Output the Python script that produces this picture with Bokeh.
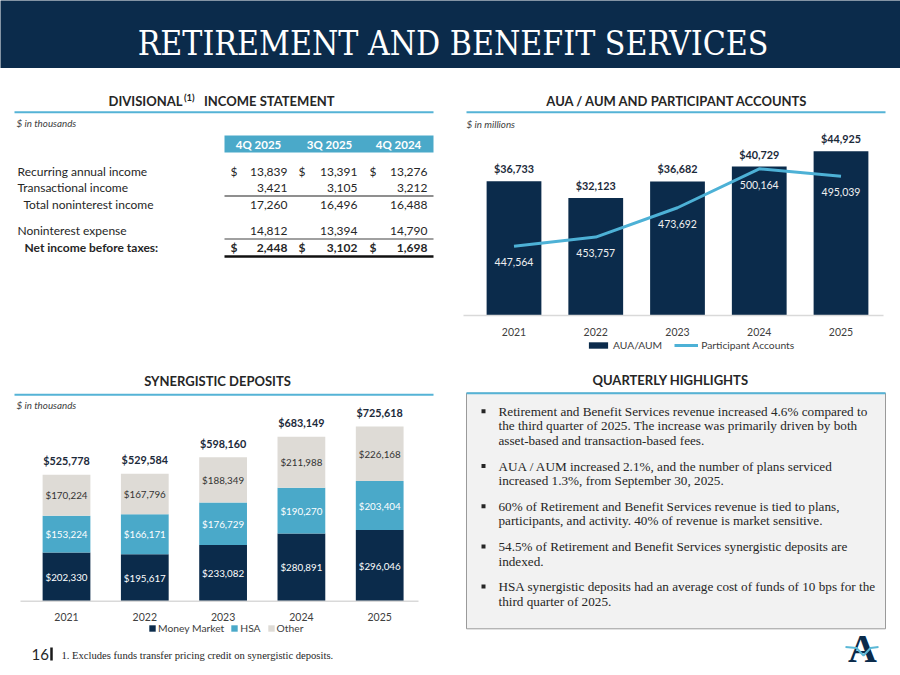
from bokeh.plotting import figure
from bokeh.layouts import column, row
from bokeh.models import Range1d, Legend, LegendItem, ColumnDataSource
from bokeh.core.properties import value
from bokeh.embed import file_html
from bokeh.resources import INLINE

# ---------------- data ----------------
slide_title = "RETIREMENT AND BENEFIT SERVICES"
years = ["2021", "2022", "2023", "2024", "2025"]

aua_aum = [36733, 32123, 36682, 40729, 44925]                 # $ millions
participant_accounts = [447564, 453757, 473692, 500164, 495039]

money_market = [202330, 195617, 233082, 280891, 296046]        # $ thousands
hsa = [153224, 166171, 176729, 190270, 203404]
other = [170224, 167796, 188349, 211988, 226168]

quarters = ["4Q 2025", "3Q 2025", "4Q 2024"]
income_rows = ["Recurring annual income", "Transactional income", "Total noninterest income",
               "Noninterest expense", "Net income before taxes:"]
recurring_income = [13839, 13391, 13276]
transactional_income = [3421, 3105, 3212]
total_noninterest_income = [17260, 16496, 16488]
noninterest_expense = [14812, 13394, 14790]
net_income_before_taxes = [2448, 3102, 1698]

highlights = [
    ["Retirement and Benefit Services revenue increased 4.6% compared to",
     "the third quarter of 2025. The increase was primarily driven by both",
     "asset-based and transaction-based fees."],
    ["AUA / AUM increased 2.1%, and the number of plans serviced",
     "increased 1.3%, from September 30, 2025."],
    ["60% of Retirement and Benefit Services revenue is tied to plans,",
     "participants, and activity. 40% of revenue is market sensitive."],
    ["54.5% of Retirement and Benefit Services synergistic deposits are",
     "indexed."],
    ["HSA synergistic deposits had an average cost of funds of 10 bps for the",
     "third quarter of 2025."],
]
footnote = "1. Excludes funds transfer pricing credit on synergistic deposits."
page_number = "16"

# ---------------- style ----------------
NAVY = "#0b2b4b"
TEAL = "#4aa9c9"
LINE_TEAL = "#4db1d6"
RULE = "#55b3d6"
LIGHT = "#dedbd6"
TXT = "#262626"
SANS = "Lato"
SERIF = "Liberation Serif"


def base_fig(w, h, xr, yr, bg="white"):
    return figure(width=int(w), height=int(h), x_range=xr, y_range=yr,
                  output_backend="svg", toolbar_location=None,
                  x_axis_type=None, y_axis_type=None, min_border=0,
                  outline_line_color=None, background_fill_color=bg, border_fill_color=bg)


def pix_fig(x0, x1, y0, y1, bg="white"):
    return base_fig(x1 - x0, y1 - y0, Range1d(x0, x1), Range1d(y1, y0), bg)


def txt(p, x, y, s, size, color=TXT, font=SANS, style="normal", align="left", **kw):
    p.text(x=[x], y=[y], text=[s], text_font=value(font), text_font_size=f"{size}px",
           text_color=color, text_font_style=style, text_align=align,
           text_baseline="middle", **kw)


def make_chart(px0, px1, py0, py1, base, x0c, step, scale):
    p = base_fig(px1 - px0, py1 - py0,
                 Range1d((px0 - x0c) / step, (px1 - x0c) / step),
                 Range1d((base - py1) / scale, (base - py0) / scale))
    fx = lambda px: (px - x0c) / step
    fy = lambda py: (base - py) / scale
    return p, fx, fy


def year_labels(p, fx, lpx, rpx, offset):
    p.segment(x0=[fx(lpx)], y0=[0], x1=[fx(rpx)], y1=[0], line_color="#d9d9d9", line_width=1.5)
    ys = ColumnDataSource(dict(x=list(range(len(years))), y=[0] * len(years), t=years))
    p.text(x="x", y="y", text="t", source=ys, y_offset=offset, text_align="center",
           text_baseline="middle", text_font=value(SANS), text_font_size="10.5px",
           text_color="#404040")


def fmt(v):
    return f"{v:,}"


# ---------------- banner ----------------
banner = pix_fig(0, 900, 0, 68, bg=NAVY)
txt(banner, 452.5, 43, slide_title, 33.5, color="white", font="DejaVu Serif Condensed",
    align="center")

# ---------------- income statement table ----------------
tab = pix_fig(0, 450, 68, 365)
txt(tab, 182, 100.5, "DIVISIONAL", 13, style="bold", align="right")
txt(tab, 183.5, 97, "(1)", 9.5, style="bold")
txt(tab, 203.5, 100.5, "INCOME STATEMENT", 13, style="bold")
tab.segment(x0=[14], y0=[111.7], x1=[433], y1=[111.7], line_color=RULE, line_width=2)
txt(tab, 16, 122, "$ in thousands", 9.8, color="#404040", style="italic")
tab.quad(left=[224], right=[433], top=[135], bottom=[152], fill_color=TEAL, line_color=None)
col_center = [258, 329, 398]
col_right = [287, 357, 427]
dollar_x = [230, 298, 369]
for q, cx in zip(quarters, col_center):
    txt(tab, cx, 143.5, q, 11.5, color="white", style="bold", align="center")

table_values = [recurring_income, transactional_income, total_noninterest_income,
                noninterest_expense, net_income_before_taxes]
row_y = [171, 187, 204, 230, 247]
row_x = [17, 17, 23, 17, 24]
for i, (lab, vals) in enumerate(zip(income_rows, table_values)):
    st = "bold" if i == 4 else "normal"
    txt(tab, row_x[i], row_y[i], lab, 12, style=st)
    for j, v in enumerate(vals):
        txt(tab, col_right[j], row_y[i], fmt(v), 12, style=st, align="right")
        if i in (0, 4):
            txt(tab, dollar_x[j], row_y[i], "$", 12, style=st)
tab.segment(x0=[224], y0=[195.5], x1=[433], y1=[195.5], line_color="#202020", line_width=1.2)
tab.segment(x0=[224], y0=[238.5], x1=[433], y1=[238.5], line_color="#808080", line_width=1.5)
tab.segment(x0=[224], y0=[256], x1=[433], y1=[256], line_color="#101010", line_width=2.5)

# ---------------- AUA / AUM chart ----------------
aua, ax_, ay_ = make_chart(450, 900, 68, 365, 315, 513.5, 81.75, 0.003656)
ACCT_BASE = 400453.0
ACCT_PER_PX = 1 / 0.001471
aua.extra_y_ranges = {"acct": Range1d(ACCT_BASE - 50 * ACCT_PER_PX, ACCT_BASE + 247 * ACCT_PER_PX)}
idx = list(range(len(years)))
src = ColumnDataSource(dict(x=idx, aua=aua_aum, acct=participant_accounts,
                            aua_lab=["$" + fmt(v) for v in aua_aum],
                            acct_lab=[fmt(v) for v in participant_accounts]))
bars = aua.vbar(x="x", top="aua", width=0.67, source=src, fill_color=NAVY, line_color=None)
aua.text(x="x", y="aua", text="aua_lab", source=src, text_align="center", text_baseline="middle",
         y_offset=-12.5, text_font=value(SANS), text_font_style="bold", text_font_size="10.8px",
         text_color="#1c2a3a")
line = aua.line(x="x", y="acct", source=src, y_range_name="acct", line_color=LINE_TEAL,
                line_width=3)
aua.text(x="x", y="acct", text="acct_lab", source=src, y_range_name="acct", text_align="center",
         text_baseline="middle", y_offset=16, text_font=value(SANS), text_font_size="10.5px",
         text_color="#f0f0f0")
txt(aua, ax_(677), ay_(100.5), "AUA / AUM AND PARTICIPANT ACCOUNTS", 13, style="bold", align="center")
aua.segment(x0=[ax_(466)], y0=[ay_(111.7)], x1=[ax_(885)], y1=[ay_(111.7)], line_color=RULE, line_width=2)
txt(aua, ax_(466), ay_(123), "$ in millions", 9.8, color="#404040", style="italic")
year_labels(aua, ax_, 463, 883, 16.7)
leg1 = Legend(items=[LegendItem(label="AUA/AUM", renderers=[bars]),
                     LegendItem(label="Participant Accounts", renderers=[line])],
              orientation="horizontal", location=(136, 14), border_line_color=None,
              background_fill_alpha=0, padding=0, margin=0, spacing=12, glyph_width=24,
              glyph_height=8, label_height=10, label_standoff=3, label_text_font=SANS,
              label_text_font_size="10.3px", label_text_color="#404040")
aua.add_layout(leg1)

# ---------------- synergistic deposits chart ----------------
dep, dx_, dy_ = make_chart(0, 450, 365, 640, 600.7, 66, 78.3, 0.0002406)
totals = [a + b + c for a, b, c in zip(money_market, hsa, other)]
dsrc = ColumnDataSource(dict(
    x=idx, mm=money_market, hsa=hsa, other=other, total=totals,
    mm_mid=[a / 2 for a in money_market],
    hsa_mid=[a + b / 2 for a, b in zip(money_market, hsa)],
    oth_mid=[a + b + c / 2 for a, b, c in zip(money_market, hsa, other)],
    mm_lab=["$" + fmt(v) for v in money_market],
    hsa_lab=["$" + fmt(v) for v in hsa],
    oth_lab=["$" + fmt(v) for v in other],
    tot_lab=["$" + fmt(v) for v in totals]))
stack = dep.vbar_stack(["mm", "hsa", "other"], x="x", width=0.61, source=dsrc,
                       fill_color=[NAVY, TEAL, LIGHT], line_color=None)
for col, lab, colr in (("mm_mid", "mm_lab", "white"), ("hsa_mid", "hsa_lab", "white"),
                       ("oth_mid", "oth_lab", "#333333")):
    dep.text(x="x", y=col, text=lab, source=dsrc, text_align="center", text_baseline="middle",
             text_font=value(SANS), text_font_size="9.8px", text_color=colr)
dep.text(x="x", y="total", text="tot_lab", source=dsrc, text_align="center", text_baseline="middle",
         y_offset=-14, text_font=value(SANS), text_font_style="bold", text_font_size="10.8px",
         text_color="#1c2a3a")
txt(dep, dx_(217), dy_(380.7), "SYNERGISTIC DEPOSITS", 13, style="bold", align="center")
dep.segment(x0=[dx_(14)], y0=[dy_(394.3)], x1=[dx_(433)], y1=[dy_(394.3)], line_color=RULE, line_width=2)
txt(dep, dx_(16), dy_(404), "$ in thousands", 9.8, color="#404040", style="italic")
year_labels(dep, dx_, 20, 418, 16)
leg2 = Legend(items=[LegendItem(label="Money Market", renderers=[stack[0]]),
                     LegendItem(label="HSA", renderers=[stack[1]]),
                     LegendItem(label="Other", renderers=[stack[2]])],
              orientation="horizontal", location=(148, 6), border_line_color=None,
              background_fill_alpha=0, padding=0, margin=0, spacing=6, glyph_width=8,
              glyph_height=8, label_height=10, label_standoff=2, label_text_font=SANS,
              label_text_font_size="10.3px", label_text_color="#404040")
dep.add_layout(leg2)

# ---------------- quarterly highlights ----------------
hl = pix_fig(450, 900, 365, 675)
txt(hl, 670, 379, "QUARTERLY HIGHLIGHTS", 13, style="bold", align="center")
hl.quad(left=[466], right=[885], top=[392.7], bottom=[628.3], fill_color="#f2f2f2",
        line_color="#9a9a9a", line_width=1)
hl.segment(x0=[466], y0=[392.7], x1=[885], y1=[392.7], line_color=RULE, line_width=2)
y = 410.7
LH = 14.6
for lines in highlights:
    hl.scatter(x=[483], y=[y], marker="square", size=4, fill_color=TXT, line_color=None)
    for k, ln in enumerate(lines):
        txt(hl, 498, y + k * LH, ln, 13.2, font=SERIF)
    y += len(lines) * LH + 11
# logo
txt(hl, 862, 648, "A", 40, color=NAVY, font=SERIF, style="bold", align="center")
hl.line(x=[845, 856, 863, 870, 878], y=[646.5, 647.5, 655, 647.5, 646.5], line_color="#5bb8d6",
        line_width=2)

# ---------------- footer ----------------
foot = pix_fig(0, 450, 640, 675)
txt(foot, 31, 654, page_number, 15, font=SANS)
foot.segment(x0=[51], y0=[647], x1=[51], y1=[660], line_color="#1a1a1a", line_width=2.5)
txt(foot, 61, 654.5, footnote, 10.6, font=SERIF)

layout = column(banner,
                row(column(tab, dep, foot, spacing=0), column(aua, hl, spacing=0), spacing=0),
                spacing=0)

open("out.html", "w").write(file_html(layout, INLINE))
